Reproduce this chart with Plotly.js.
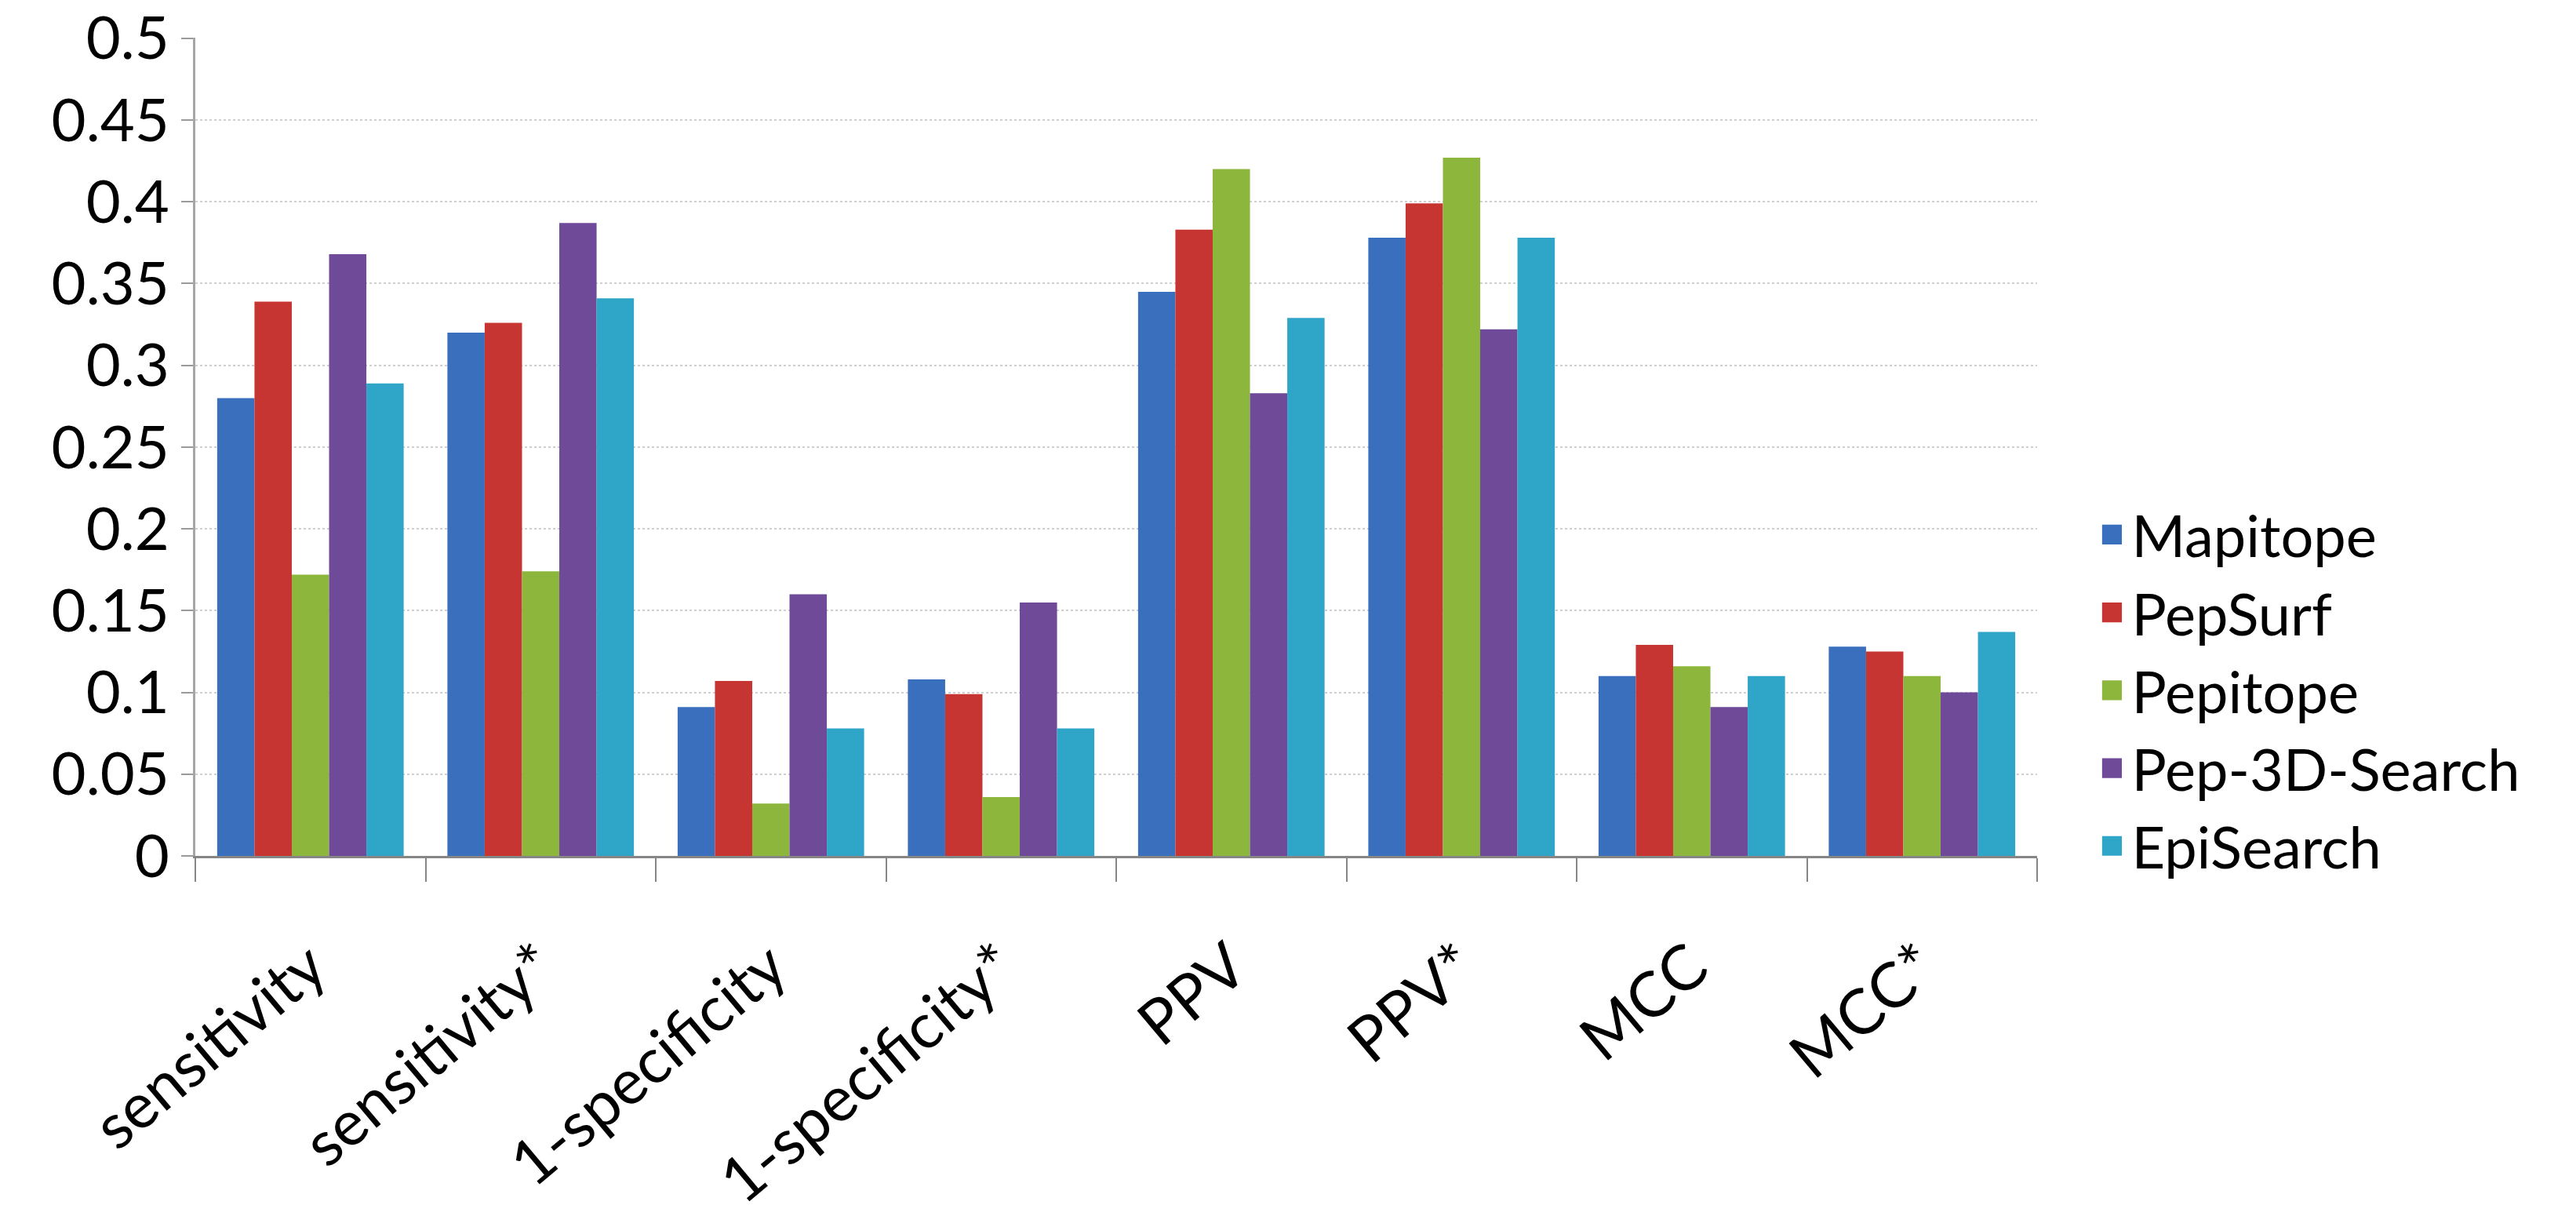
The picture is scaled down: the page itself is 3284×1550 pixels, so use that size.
<!DOCTYPE html>
<html>
<head>
<meta charset="utf-8">
<script src="https://cdn.plot.ly/plotly-3.0.1.min.js"></script>
<style>
  html, body { margin: 0; padding: 0; background: #ffffff; }
  #chart { width: 3284px; height: 1550px; }
  #chart .legend .legendpoints path { transform: translate(25px, 0px) scale(2.1); }
</style>
</head>
<body>
<div id="chart"></div>
<script>
const categories = ["sensitivity", "sensitivity*", "1-specificity", "1-specificity*", "PPV", "PPV*", "MCC", "MCC*"];
const seriesNames = ["Mapitope", "PepSurf", "Pepitope", "Pep-3D-Search", "EpiSearch"];
const mapitope   = [0.280, 0.320, 0.091, 0.108, 0.345, 0.378, 0.110, 0.128];
const pepsurf    = [0.339, 0.326, 0.107, 0.099, 0.383, 0.399, 0.129, 0.125];
const pepitope   = [0.172, 0.174, 0.032, 0.036, 0.420, 0.427, 0.116, 0.110];
const pep3d      = [0.368, 0.387, 0.160, 0.155, 0.283, 0.322, 0.091, 0.100];
const episearch  = [0.289, 0.341, 0.078, 0.078, 0.329, 0.378, 0.110, 0.137];
const yTickVals  = [0, 0.05, 0.1, 0.15, 0.2, 0.25, 0.3, 0.35, 0.4, 0.45, 0.5];
const yTickText  = ["0", "0.05", "0.1", "0.15", "0.2", "0.25", "0.3", "0.35", "0.4", "0.45", "0.5"];

const seriesValues = [mapitope, pepsurf, pepitope, pep3d, episearch];
const colors = ["#3a6fbd", "#c63531", "#8cb63c", "#6e4a99", "#2fa5c8"];
const FONT = "Lato, 'Open Sans', sans-serif";

const traces = seriesNames.map((name, i) => ({
  type: "bar",
  name: name,
  x: categories,
  y: seriesValues[i],
  marker: { color: colors[i], line: { width: 0 } },
  hoverinfo: "x+y+name"
}));

const layout = {
  width: 3284,
  height: 1550,
  paper_bgcolor: "#ffffff",
  plot_bgcolor: "#ffffff",
  margin: { l: 249, r: 687, t: 48, b: 459, pad: 0 },
  barmode: "group",
  bargap: 0.19,
  bargroupgap: 0,
  font: { family: FONT, size: 76, color: "#000000" },
  showlegend: true,
  legend: {
    x: 1.03, xanchor: "left",
    y: 0.445, yanchor: "top",
    font: { family: FONT, size: 74, color: "#000000" },
    bgcolor: "rgba(0,0,0,0)",
    itemwidth: 40,
    tracegroupgap: 0
  },
  xaxis: {
    type: "category",
    tickangle: -40,
    tickfont: { family: FONT, size: 80, color: "#000000" },
    showline: true,
    linecolor: "#868686",
    linewidth: 3,
    ticks: "outside",
    tickson: "boundaries",
    ticklen: 30,
    tickwidth: 2,
    tickcolor: "#868686",
    ticklabelstandoff: 60,
    showgrid: false,
    zeroline: false
  },
  yaxis: {
    range: [0, 0.5004],
    tickmode: "array",
    tickvals: yTickVals,
    ticktext: yTickText,
    tickfont: { family: FONT, size: 76, color: "#000000" },
    showline: true,
    linecolor: "#a6a6a6",
    linewidth: 3,
    ticks: "outside",
    ticklen: 15,
    tickwidth: 2,
    tickcolor: "#9a9a9a",
    showgrid: true,
    gridcolor: "#cfcfcf",
    gridwidth: 2,
    griddash: "dot",
    zeroline: false
  }
};

Plotly.newPlot("chart", traces, layout, { displayModeBar: false, staticPlot: true });
</script>
</body>
</html>
